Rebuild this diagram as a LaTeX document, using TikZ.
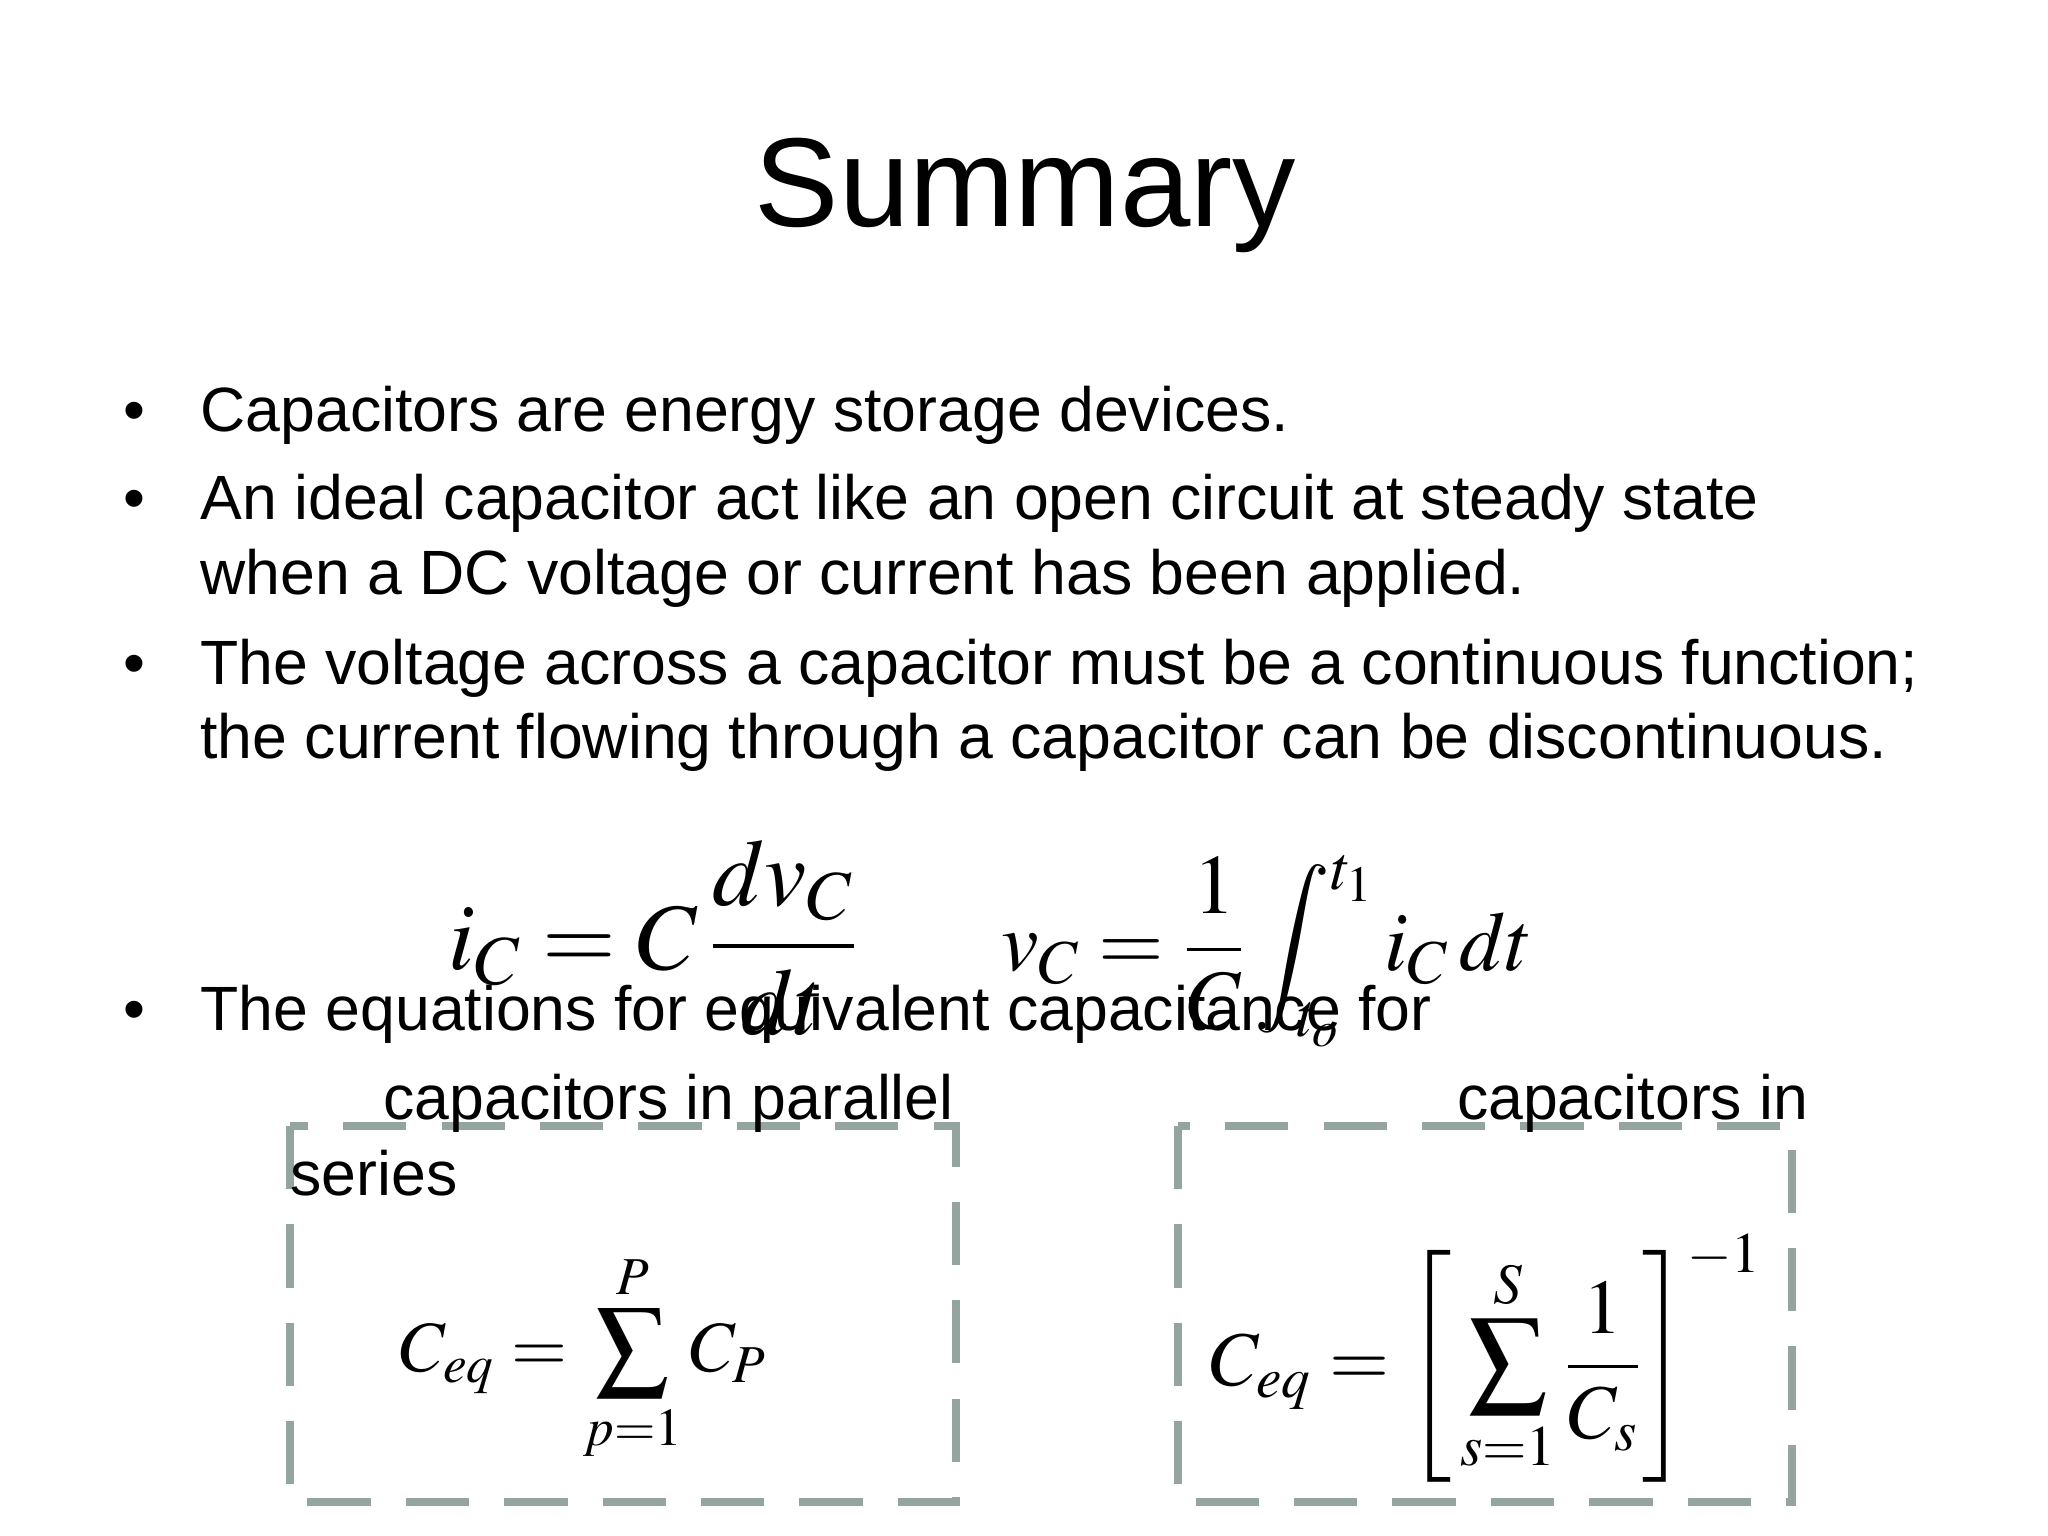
\documentclass[tikz,border=0pt]{standalone}
\usepackage{fontspec}
\usepackage{mathptmx}
\setmainfont{Liberation Sans}
\definecolor{boxgray}{HTML}{94A5A0}
\begin{document}
\begin{tikzpicture}[x=0.01306cm,y=-0.01306cm,
  body/.style={anchor=base west,inner sep=0,font=\fontsize{17.8}{20}\selectfont},
  bul/.style={anchor=base west,inner sep=0,font=\fontsize{17.8}{20}\selectfont},
  dbox/.style={draw=boxgray,line width=2.2pt,dash pattern=on 18pt off 10pt}]
\useasboundingbox (0,0) rectangle (1568,1176);
\node[inner sep=0,font=\fontsize{36}{40}\selectfont] (title) at (785,150) {Summary};
\node[bul] (b1) at (94,330) {•};
\node[body] (t1) at (153,330) {Capacitors are energy storage devices.};
\node[bul] (b2) at (94,398) {•};
\node[body] (t2) at (153,398) {An ideal capacitor act like an open circuit at steady state};
\node[body] (t2b) at (153,455) {when a DC voltage or current has been applied.};
\node[bul] (b3) at (94,524) {•};
\node[body] (t3) at (153,524) {The voltage across a capacitor must be a continuous function;};
\node[body] (t3b) at (153,581) {the current flowing through a capacitor can be discontinuous.};
\node[inner sep=0,font=\fontsize{27}{30}\selectfont] (e1) at (500,718) {$\displaystyle i_C = C\,\frac{dv_C}{dt}$};
\node[inner sep=0,font=\fontsize{24}{28}\selectfont] (e2) at (970,728) {$\displaystyle v_C = \frac{1}{C}\int_{t_o}^{t_1} i_C\,dt$};
\node[bul] (b4) at (94,789) {•};
\node[body] (t4) at (153,789) {The equations for equivalent capacitance for};
\draw[dbox] (222,862) rectangle (732,1150);
\draw[dbox] (902,862) rectangle (1372,1150);
\node[body] (l1) at (293,857) {capacitors in parallel};
\node[body] (l2) at (1115,857) {capacitors in};
\node[body] (l3) at (222,915) {series};
\node[inner sep=0,font=\fontsize{20.5}{24}\selectfont] (q1) at (447,1040) {$\displaystyle C_{eq} = \sum_{p=1}^{P} C_P$};
\node[inner sep=0,font=\fontsize{22}{26}\selectfont] (q2) at (1138,1040) {$\displaystyle C_{eq} = \left[\,\sum_{s=1}^{S}\frac{1}{C_s}\right]^{-1}$};
\end{tikzpicture}
\end{document}
